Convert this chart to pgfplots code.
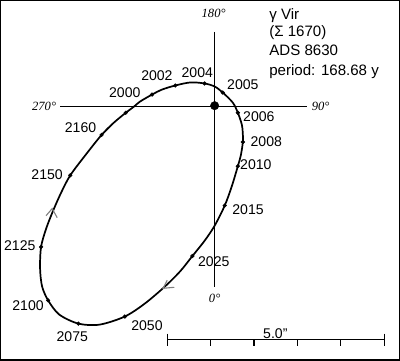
\documentclass[border=0pt]{standalone}
\usepackage{fontspec}
\setmainfont{Liberation Sans}
\newfontfamily\serifit{Liberation Serif Italic}
\usepackage{pgfplots}
\usepackage{pgfplotstable}
\pgfplotsset{compat=1.18}
\tikzset{
  lbl/.style={font=\fontsize{14}{16}\selectfont, inner sep=0pt, anchor=center},
  deg/.style={font=\fontsize{12.5}{14}\selectfont\serifit, inner sep=0pt, anchor=center},
  ttl/.style={font=\fontsize{15}{17}\selectfont, inner sep=0pt, anchor=base west},
}

% relative orbit (arcsec), closed with a short overlap
\pgfplotstableread{
x y
-2.605 -0.651
-2.326 -0.372
-2.047 -0.140
-1.860 0.000
-1.721 0.116
-1.442 0.279
-1.209 0.395
-0.907 0.488
-0.558 0.558
-0.233 0.535
0.000 0.465
0.186 0.326
0.419 0.093
0.535 -0.140
0.628 -0.419
0.651 -0.651
0.651 -0.814
0.605 -1.116
0.535 -1.372
0.395 -1.837
0.233 -2.279
0.000 -2.744
-0.233 -3.093
-0.512 -3.442
-0.791 -3.791
-1.140 -4.140
-1.605 -4.535
-2.070 -4.837
-2.651 -5.023
-3.140 -5.000
-3.581 -4.791
-3.837 -4.465
-3.977 -4.140
-4.023 -3.721
-4.000 -3.233
-3.884 -2.814
-3.721 -2.395
-3.535 -1.977
-3.326 -1.581
-2.977 -1.116
-2.605 -0.651
-2.326 -0.372
-2.047 -0.140
-1.860 0.000
}\orbit

% marked epochs
\pgfplotstableread{
x y
-2.047 -0.140
-1.442 0.279
-0.907 0.488
-0.233 0.535
0.186 0.326
0.535 -0.140
0.651 -0.814
0.535 -1.372
0.233 -2.279
-0.512 -3.442
-2.070 -4.837
-3.140 -5.000
-3.837 -4.465
-4.000 -3.233
-3.326 -1.581
-2.605 -0.651
}\epochs

\begin{document}
\begin{tikzpicture}
\begin{axis}[
  scale only axis, width=395bp, height=356bp,
  xmin=-4.930, xmax=4.256, ymin=-5.837, ymax=2.442,
  axis line style={line width=1.4pt},
  xtick=\empty, ytick=\empty,
  clip=false,
]
% position-angle cross
\addplot[black, line width=0.7pt] coordinates {(0,1.721) (0,-4.163)};
\addplot[black, line width=0.7pt] coordinates {(-3.558,0) (2.140,0)};
% orbit
\addplot[black, line width=1.7pt, smooth] table {\orbit};
\addplot[only marks, mark=*, mark size=1.9pt, black] table {\epochs};
% primary
\addplot[only marks, mark=*, mark size=4.2pt, black] coordinates {(0,0.023)};
% direction arrows (grey chevrons)
\addplot[gray, line width=1.1pt] coordinates {(-3.884,-2.512) (-3.744,-2.349) (-3.628,-2.558)};
\addplot[gray, line width=1.1pt] coordinates {(-1.093,-4.000) (-1.186,-4.186) (-0.930,-4.163)};
% scale bar
\addplot[black, line width=1.2pt] coordinates {(-1.093,-5.372) (3.907,-5.372)};
\addplot[black, line width=1.2pt] coordinates {(-1.093,-5.233) (-1.093,-5.512)};
\addplot[black, line width=1.2pt] coordinates {(3.907,-5.233) (3.907,-5.512)};
\addplot[black, line width=1.2pt] coordinates {(-0.093,-5.372) (-0.093,-5.512)};
\addplot[black, line width=1.2pt] coordinates {(0.907,-5.372) (0.907,-5.512)};
\addplot[black, line width=1.2pt] coordinates {(1.907,-5.372) (1.907,-5.512)};
\addplot[black, line width=1.2pt] coordinates {(2.907,-5.372) (2.907,-5.512)};
\node[lbl] at (axis cs:1.40,-5.226) {5.0"};
% epoch labels
\node[lbl] at (axis cs:-2.07,0.33) {2000};
\node[lbl] at (axis cs:-1.33,0.72) {2002};
\node[lbl] at (axis cs:-0.40,0.79) {2004};
\node[lbl] at (axis cs:0.65,0.51) {2005};
\node[lbl] at (axis cs:1.02,-0.23) {2006};
\node[lbl] at (axis cs:1.19,-0.81) {2008};
\node[lbl] at (axis cs:0.95,-1.33) {2010};
\node[lbl] at (axis cs:0.77,-2.37) {2015};
\node[lbl] at (axis cs:-0.02,-3.58) {2025};
\node[lbl] at (axis cs:-1.56,-5.05) {2050};
\node[lbl] at (axis cs:-3.28,-5.30) {2075};
\node[lbl] at (axis cs:-4.30,-4.58) {2100};
\node[lbl] at (axis cs:-4.49,-3.21) {2125};
\node[lbl] at (axis cs:-3.86,-1.56) {2150};
\node[lbl] at (axis cs:-3.09,-0.49) {2160};
% position-angle labels
\node[deg] at (axis cs:-0.023,2.140) {180°};
\node[deg] at (axis cs:2.442,0) {90°};
\node[deg] at (axis cs:-3.930,0) {270°};
\node[deg] at (axis cs:0,-4.419) {0°};
% title block
\node[ttl] at (axis cs:1.256,2.000) {γ Vir};
\node[ttl] at (axis cs:1.256,1.616) {(Σ 1670)};
\node[ttl] at (axis cs:1.256,1.186) {ADS 8630};
\node[ttl] at (axis cs:1.256,0.721) {period: 168.68 y};
\end{axis}
\end{tikzpicture}
\end{document}
